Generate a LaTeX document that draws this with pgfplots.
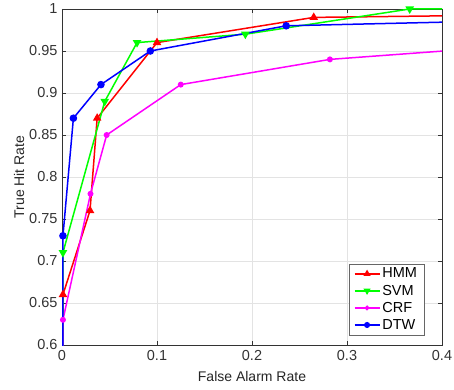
\documentclass[border=0pt]{standalone}
\usepackage{pgfplots}
\pgfplotsset{compat=1.18}
\usepackage{fontspec}
\setmainfont{Liberation Sans}
\definecolor{cR}{rgb}{1,0,0}
\definecolor{cG}{rgb}{0,1,0}
\definecolor{cM}{rgb}{1,0,1}
\definecolor{cB}{rgb}{0,0,1}
\begin{document}
\begin{tikzpicture}
\useasboundingbox (-62pt,-44pt) rectangle (392pt,345pt);
\begin{axis}[
  at={(0pt,0pt)}, anchor=south west,
  scale only axis,
  width=380pt, height=336pt,
  xmin=0, xmax=0.4, ymin=0.6, ymax=1,
  xtick={0,0.1,0.2,0.3,0.4},
  ytick={0.6,0.65,0.7,0.75,0.8,0.85,0.9,0.95,1},
  yticklabels={0.6,0.65,0.7,0.75,0.8,0.85,0.9,0.95,1},
  xticklabels={0,0.1,0.2,0.3,0.4},
  grid=major,
  major grid style={gray!22, line width=0.5pt},
  axis line style={black!80, line width=0.6pt},
  tick style={black!80},
  major tick length=4pt,
  tick label style={font=\fontsize{14.5}{16}\selectfont, text=black!80},
  xticklabel style={yshift=-2pt},
  yticklabel style={xshift=-1pt},
  xlabel={False Alarm Rate},
  ylabel={True Hit Rate},
  every axis x label/.style={at={(axis description cs:0.5,-0.095)},anchor=center,font=\fontsize{14}{16}\selectfont, text=black!85},
  every axis y label/.style={at={(axis description cs:-0.113,0.5)},rotate=90,anchor=center,font=\fontsize{14}{16}\selectfont, text=black!85},
  legend style={at={(0.953,0.030)}, anchor=south east, font=\fontsize{14.5}{16}\selectfont,
    draw=black!60, row sep=1.5pt, inner xsep=5pt, inner ysep=2pt},
  legend image code/.code={\draw[mark repeat=2,mark phase=2,#1,every mark/.append style={scale=0.75}] plot coordinates {(0pt,0pt)(12.5pt,0pt)(25pt,0pt)};},
  legend cell align=left,
  every axis plot/.append style={line width=1.5pt},
  clip=true,
]
\addplot[color=cR, mark=triangle*, mark size=3.5pt] coordinates {
 (0,0) (0.001,0.66) (0.0295,0.76) (0.037,0.87) (0.1,0.96) (0.265,0.99) (1,1)};
\addlegendentry{HMM}
\addplot[color=cG, mark=triangle*, mark options={rotate=180}, mark size=3.5pt] coordinates {
 (0,0) (0.001,0.71) (0.045,0.89) (0.079,0.96) (0.193,0.97) (0.366,1.0) (1,1)};
\addlegendentry{SVM}
\addplot[color=cM, mark=*, mark size=2.2pt] coordinates {
 (0,0) (0.001,0.63) (0.03,0.78) (0.047,0.85) (0.125,0.91) (0.282,0.94) (1,1)};
\addlegendentry{CRF}
\addplot[color=cB, mark=*, mark size=3pt] coordinates {
 (0,0) (0.001,0.73) (0.012,0.87) (0.041,0.91) (0.093,0.95) (0.236,0.98) (1,1)};
\addlegendentry{DTW}
\end{axis}
\end{tikzpicture}
\end{document}
